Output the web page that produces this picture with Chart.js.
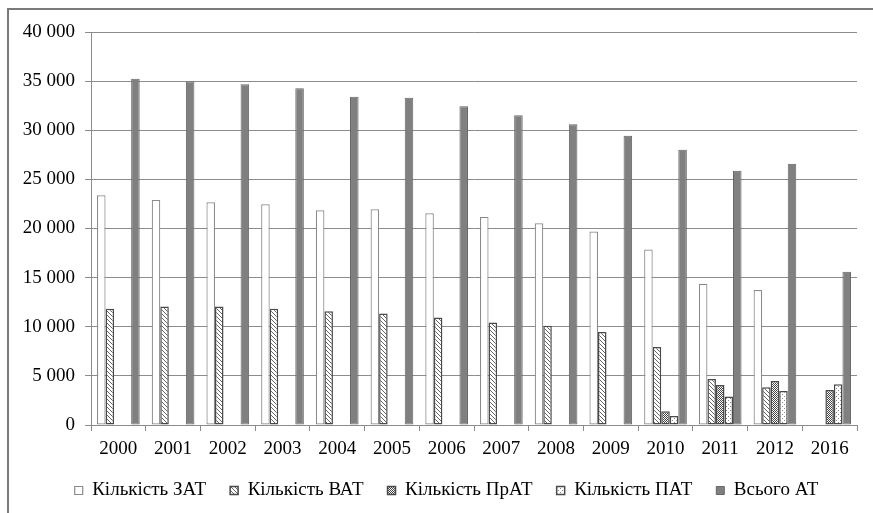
<!DOCTYPE html>
<html>
  <head>
    <meta charset="utf-8">
    <title>Кількість акціонерних товариств</title>
    <style>
      html, body { margin: 0; padding: 0; background: #fff; }
      #wrap { width: 873px; height: 513px; position: relative; }
    </style>
  </head>
  <body>
    <div id="wrap"><canvas id="atChart" width="873" height="513"></canvas></div>

    <script src="https://cdn.jsdelivr.net/npm/chart.js"></script>
    <script>
      // data
      const years = ['2000', '2001', '2002', '2003', '2004', '2005', '2006', '2007', '2008', '2009', '2010', '2011', '2012', '2016'];
      const zat   = [23380, 22910, 22670, 22470, 21860, 21960, 21550, 21180, 20540, 19700, 17860, 14380, 13740, null];
      const vat   = [11840, 12050, 12050, 11840, 11570, 11340, 10930, 10420, 10100, 9470, 7950, 4670, 3830, null];
      const prat  = [null, null, null, null, null, null, null, null, null, 40, 1390, 4060, 4470, 3550];
      const pat   = [null, null, null, null, null, null, null, null, null, 40, 910, 2910, 3450, 4160];
      const total = [35230, 34950, 34690, 34280, 33400, 33300, 32450, 31520, 30620, 29450, 28020, 25890, 26600, 15600];
      const seriesNames = ['Кількість ЗАТ', 'Кількість ВАТ', 'Кількість ПрАТ', 'Кількість ПАТ', 'Всього АТ'];
      const yTicks = [0, 5000, 10000, 15000, 20000, 25000, 30000, 35000, 40000];

      // fill patterns
      function makePattern(size, draw) {
        const c = document.createElement('canvas');
        c.width = size; c.height = size;
        const g = c.getContext('2d');
        g.fillStyle = '#fff';
        g.fillRect(0, 0, size, size);
        draw(g);
        return g.createPattern(c, 'repeat');
      }
      const ctx = document.getElementById('atChart').getContext('2d');

      // "\\\" hatch
      const hatch = makePattern(4, g => {
        g.fillStyle = '#666';
        for (let i = 0; i < 4; i++) g.fillRect(i, i, 1, 1);
      });
      // small checker
      const checker = makePattern(4, g => {
        g.fillStyle = '#444';
        g.fillRect(0, 0, 1, 1); g.fillRect(2, 0, 1, 1);
        g.fillRect(1, 1, 1, 1); g.fillRect(3, 1, 1, 1);
        g.fillRect(0, 2, 1, 1); g.fillRect(2, 2, 1, 1);
        g.fillRect(1, 3, 1, 1); g.fillRect(3, 3, 1, 1);
        g.fillStyle = '#fff';
        g.fillRect(3, 0, 1, 1); g.fillRect(1, 2, 1, 1);
      });
      // sparse dots
      const dots = makePattern(4, g => {
        g.fillStyle = '#888';
        g.fillRect(0, 0, 1, 1);
        g.fillRect(2, 2, 1, 1);
      });

      // frame around the figure (left and top edges visible)
      const framePlugin = {
        id: 'frame',
        beforeDraw(chart) {
          const c = chart.ctx;
          c.save();
          c.fillStyle = '#fff';
          c.fillRect(0, 0, chart.width, chart.height);
          c.strokeStyle = '#7a7a7a';
          c.lineWidth = 2;
          c.beginPath();
          c.moveTo(8, chart.height);
          c.lineTo(8, 9);
          c.lineTo(chart.width, 9);
          c.stroke();
          c.restore();
        }
      };

      // legend in the reference sits a bit right of centre
      const legendShift = {
        id: 'legendShift',
        afterLayout(chart) {
          chart.legend.left += 18;
          chart.legend.right += 18;
        }
      };

      const font = { family: '"Liberation Serif", "Times New Roman", serif', size: 19 };

      new Chart(ctx, {
        type: 'bar',
        data: {
          labels: years,
          datasets: [
            { label: seriesNames[0], data: zat,   backgroundColor: '#fff', borderColor: '#8a8a8a', borderWidth: 1.2 },
            { label: seriesNames[1], data: vat,   backgroundColor: hatch,  borderColor: '#4a4a4a', borderWidth: 1.5 },
            { label: seriesNames[2], data: prat,  backgroundColor: checker, borderColor: '#4a4a4a', borderWidth: 1.5 },
            { label: seriesNames[3], data: pat,   backgroundColor: dots,   borderColor: '#4a4a4a', borderWidth: 1.5 },
            { label: seriesNames[4], data: total, backgroundColor: '#808080', borderColor: '#666', borderWidth: 1 }
          ]
        },
        options: {
          responsive: false,
          animation: false,
          devicePixelRatio: 1,
          layout: { padding: { left: 0, right: 16, top: 32, bottom: 3 } },
          datasets: { bar: { categoryPercentage: 0.78, barPercentage: 1, borderSkipped: false } },
          plugins: {
            tooltip: { enabled: false },
            legend: {
              position: 'bottom',
              labels: {
                color: '#000',
                font: font,
                boxWidth: 8,
                boxHeight: 8,
                padding: 24
              }
            }
          },
          scales: {
            x: {
              grid: { drawOnChartArea: false, offset: true, tickLength: 6, color: '#8c8c8c' },
              border: { color: '#8c8c8c' },
              ticks: { color: '#000', font: font, maxRotation: 0, padding: 7 },
              afterFit(scale) { scale.height = 32; }
            },
            y: {
              min: 0,
              max: 40000,
              afterBuildTicks(scale) { scale.ticks = yTicks.map(v => ({ value: v })); },
              grid: { color: '#8c8c8c', tickLength: 6 },
              border: { color: '#8c8c8c' },
              ticks: {
                color: '#000',
                font: font,
                padding: 10,
                callback: v => String(v).replace(/\B(?=(\d{3})+(?!\d))/g, ' ')
              },
              afterFit(scale) { scale.width = 91; }
            }
          }
        },
        plugins: [framePlugin, legendShift]
      });
    </script>
  </body>
</html>
